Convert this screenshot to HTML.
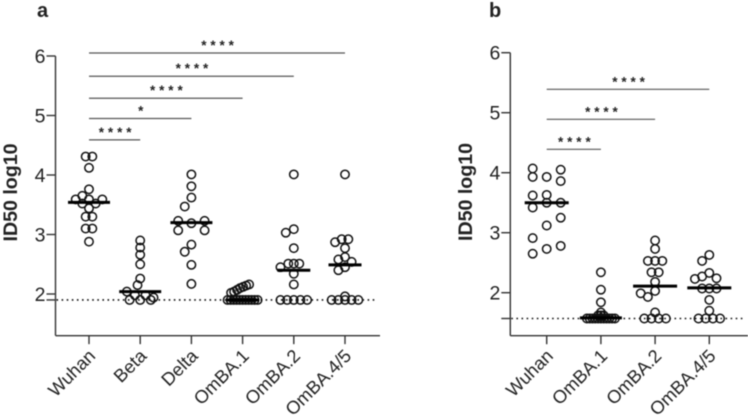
<!DOCTYPE html>
<html><head><meta charset="utf-8">
<style>
html,body{margin:0;padding:0;background:#fff;width:748px;height:417px;overflow:hidden}
svg{display:block;filter:blur(0.4px)}
text{font-family:"Liberation Sans",Arial,sans-serif;fill:#222}
</style></head>
<body>
<svg id="chart" width="748" height="417" viewBox="0 0 748 417" xmlns="http://www.w3.org/2000/svg"></svg>
<script>
const categoriesA = ["Wuhan","Beta","Delta","OmBA.1","OmBA.2","OmBA.4/5"];
const categoriesB = ["Wuhan","OmBA.1","OmBA.2","OmBA.4/5"];
const yTicks = [6,5,4,3,2];
const limitA = 1.9;
const limitB = 1.57;

const wuhanA = [4.31,4.31,4.12,3.76,3.65,3.59,3.59,3.59,3.52,3.52,3.44,3.3,3.3,3.1,3.1,2.88];
const betaA = [2.90,2.78,2.66,2.50,2.26,2.15,2.04,1.98,1.98,1.94,1.9,1.9,1.9];
const deltaA = [4.01,3.81,3.62,3.47,3.23,3.23,3.19,3.07,3.07,2.83,2.71,2.49,2.17];
const omba1A = [2.16,2.14,2.12,2.10,2.07,2.04,2.02,1.9,1.9,1.9,1.9,1.9,1.9,1.9,1.9,1.9,1.9,1.9];
const omba2A = [4.01,3.09,3.03,2.77,2.51,2.51,2.51,2.45,2.34,2.16,1.9,1.9,1.9,1.9,1.9];
const omba45A = [4.01,2.92,2.92,2.87,2.77,2.62,2.58,2.54,2.45,2.40,1.96,1.9,1.9,1.9,1.9,1.9];
const mediansA = [3.54,2.04,3.2,1.9,2.40,2.49];
const seriesA = [wuhanA,betaA,deltaA,omba1A,omba2A,omba45A];

const wuhanB = [4.07,4.05,3.93,3.93,3.86,3.63,3.62,3.5,3.5,3.42,3.25,3.12,2.91,2.78,2.73,2.65];
const omba1B = [2.34,2.05,1.84,1.67,1.62,1.62,1.62,1.57,1.57,1.57,1.57,1.57,1.57,1.57,1.57,1.57,1.57,1.57];
const omba2B = [2.87,2.73,2.53,2.53,2.53,2.34,2.34,2.18,2.03,1.99,1.93,1.67,1.57,1.57,1.57,1.57];
const omba45B = [2.63,2.53,2.33,2.27,2.24,2.23,2.07,2.07,2.07,1.88,1.7,1.57,1.57,1.57,1.57];
const mediansB = [3.5,1.58,2.11,2.08];
const seriesB = [wuhanB,omba1B,omba2B,omba45B];

const bracketTargetsA = ["Beta","Delta","OmBA.1","OmBA.2","OmBA.4/5"];
const bracketLevelsA = [4.59,4.95,5.29,5.66,6.05];
const bracketStarsA = ["****","*","****","****","****"];
const bracketTargetsB = ["OmBA.1","OmBA.2","OmBA.4/5"];
const bracketLevelsB = [4.39,4.89,5.39];
const bracketStarsB = ["****","****","****"];

const svg = document.getElementById('chart');
const NS = 'http://www.w3.org/2000/svg';

function make(tag, attrs, text){
  const el = document.createElementNS(NS, tag);
  for (const k in attrs) el.setAttribute(k, attrs[k]);
  if (text !== undefined) el.textContent = text;
  svg.appendChild(el);
  return el;
}

/* beeswarm: repeated values become centred rows placed first; single values then take the nearest free slot;
   the detection-limit row is drawn last, centred, without collision checks */
function swarm(values, y, opt, limit){
  const placed = [];
  const sorted = values.slice().sort((a,b)=>b-a);
  if (opt.columns){
    const order = [-1,1,0];
    sorted.forEach((v,i) => placed.push({x: order[i % 3] * opt.columns, y: y(v)}));
    return placed;
  }
  const counts = new Map();
  sorted.forEach(v => counts.set(v, (counts.get(v) || 0) + 1));
  const rows = [...counts.keys()].filter(v => counts.get(v) > 1 && v !== limit);
  const singles = [...counts.keys()].filter(v => counts.get(v) === 1 && v !== limit);
  const free = (xs, py) => xs.every(px => placed.every(p => Math.hypot(p.x - px, p.y - py) >= opt.minDist));
  const rowXs = (n, gap, sh) => {
    const out = [];
    for (let m = 0; m < n; m++) out.push(sh + (m - (n-1)/2) * gap);
    return out;
  };
  const gapFor = n => (opt.rowStep && n >= (opt.rowMin || 3)) ? opt.rowStep : opt.step;
  const put = (xs, py) => xs.forEach(px => placed.push({x:px, y:py}));

  rows.forEach(v => {
    const n = counts.get(v), py = y(v), gap = gapFor(n);
    for (let mult = 1; mult <= 3; mult++){
      const xs = rowXs(n, gap * mult, 0);
      if (free(xs, py)){ put(xs, py); return; }
    }
    for (let k = 1; k < 10; k++){
      for (const sh of [-k * opt.step, k * opt.step]){
        const xs = rowXs(n, gap, sh);
        if (free(xs, py)){ put(xs, py); return; }
      }
    }
    put(rowXs(n, gap, 0), py);
  });

  let sweepAt = opt.sweepFrom || 0;
  const shift = opt.shiftStep || opt.step;
  singles.forEach(v => {
    const py = y(v);
    if (opt.sweepFrom){
      placed.push({x:sweepAt, y:py});
      sweepAt -= opt.step;
      return;
    }
    for (let k = 0; k < 14; k++){
      const cands = k === 0 ? [0] : [-k * shift, k * shift];
      for (const sh of cands){
        if (free([sh], py)){ put([sh], py); return; }
      }
    }
    put([0], py);
  });

  if (counts.has(limit)){
    const n = counts.get(limit);
    put(rowXs(n, gapFor(n), 0), y(limit));
  }
  return placed;
}

function drawPanel(p){
  const y = v => p.yTop + (6 - v) * p.yUnit;
  const x = i => p.x0 + i * p.xStep;
  const ax = p.axisX;
  const bottom = y(p.domainMin);

  const letter = make('text', {x:p.letterX, y:17, 'font-size':20, 'font-weight':'bold', fill:'#111'}, p.letter);
  
  

  const yLine = make('line', {x1:ax, x2:ax, y1:y(6), y2:bottom, stroke:'#333', 'stroke-width':1.4});
  
  

  const xLine = make('line', {x1:ax, x2:p.axisEnd, y1:bottom, y2:bottom, stroke:'#333', 'stroke-width':1.4});
  
  

  yTicks.forEach(t => {
    const tick = make('line', {x1:ax - 9, x2:ax, y1:y(t), y2:y(t), stroke:'#333', 'stroke-width':1.4});
    
    
    const lab = make('text', {x:ax - 10, y:y(t) + 7, 'font-size':19.5, 'text-anchor':'end'}, String(t));
    
    
  });

  const limitTick = make('line', {x1:ax - 9, x2:ax, y1:y(p.limit), y2:y(p.limit), stroke:'#333', 'stroke-width':1.4});
  
  

  const title = make('text', {x:0, y:0, 'font-size':19.6, 'font-weight':'bold', 'text-anchor':'middle', fill:'#111',
    transform:'translate(' + p.titleX + ',' + p.titleY + ') rotate(-90)'}, 'ID50 log10');
  
  

  p.categories.forEach((c,i) => {
    const tick = make('line', {x1:x(i), x2:x(i), y1:bottom, y2:bottom + 8.5, stroke:'#333', 'stroke-width':1.4});
    
    
    const lab = make('text', {x:0, y:0, 'font-size':18.3, 'text-anchor':'end',
      transform:'translate(' + (x(i) + 7.5) + ',357) rotate(-45)'}, c);
    
    
  });

  const limit = make('line', {x1:ax + 1, x2:p.axisEnd - 4, y1:y(p.limit), y2:y(p.limit), stroke:'#111', 'stroke-width':1.6,
    'stroke-dasharray':'1.6 3.5'});
  
  

  p.targets.forEach((t,i) => {
    const ly = y(p.levels[i]);
    const br = make('line', {x1:x(0), x2:x(p.categories.indexOf(t)), y1:ly, y2:ly, stroke:'#555', 'stroke-width':1.2});
    
    
    const mid = (x(0) + x(p.categories.indexOf(t))) / 2;
    const st = make('text', {x:mid + 2.5, y:ly - 3, 'font-size':13.5, 'font-weight':'bold', 'text-anchor':'middle', 'letter-spacing':p.starGap, fill:'#000'}, p.stars[i]);
    
    
  });

  p.series.forEach((vals,i) => {
    const opt = p.layout[i];
    swarm(vals, y, opt, p.limit).forEach(pt => {
      const c = make('circle', {cx:x(i) + pt.x, cy:pt.y, r:4.2, fill:'none', stroke:'#111', 'stroke-width':1.5});
      
      
    });
    const half = opt.medianHalf;
    const med = make('line', {x1:x(i) - half, x2:x(i) + half, y1:y(p.medians[i]), y2:y(p.medians[i]), stroke:'#000', 'stroke-width':3});
    
    
  });
}

drawPanel({
  letter:'a', letterX:37, yTop:56, yUnit:59.5, domainMin:1.3, x0:89, xStep:51.2, axisX:55.5, axisEnd:380,
  titleX:17, titleY:192.5, limit:limitA, categories:categoriesA, series:seriesA, medians:mediansA,
  targets:bracketTargetsA, levels:bracketLevelsA, stars:bracketStarsA, starGap:'3.9px',
  layout:[
    {step:6.67, minDist:7.5, rowStep:13.3, rowMin:3, medianHalf:21},
    {step:6.67, minDist:7, rowStep:10.6, rowMin:2, shiftStep:2.67, medianHalf:21},
    {step:6.67, minDist:9, rowStep:26.4, rowMin:2, medianHalf:21},
    {step:3, minDist:3, medianHalf:16.5, sweepFrom:6.5},
    {step:5.5, minDist:7, rowStep:6.67, rowMin:5, shiftStep:2.67, medianHalf:16.5},
    {step:6.67, minDist:7, shiftStep:3.3, medianHalf:16.5}
  ]
});

drawPanel({
  letter:'b', letterX:489, yTop:52.7, yUnit:60, domainMin:1.283, x0:546.7, xStep:54.2, axisX:510.3, axisEnd:748,
  titleX:472, titleY:192, limit:limitB, categories:categoriesB, series:seriesB, medians:mediansB,
  targets:bracketTargetsB, levels:bracketLevelsB, stars:bracketStarsB, starGap:'3.9px',
  layout:[
    {columns:14, medianHalf:22},
    {step:2.8, minDist:3, medianHalf:21},
    {step:7.2, minDist:8, medianHalf:22},
    {step:7.2, minDist:7.5, medianHalf:22}
  ]
});
</script>
</body></html>
